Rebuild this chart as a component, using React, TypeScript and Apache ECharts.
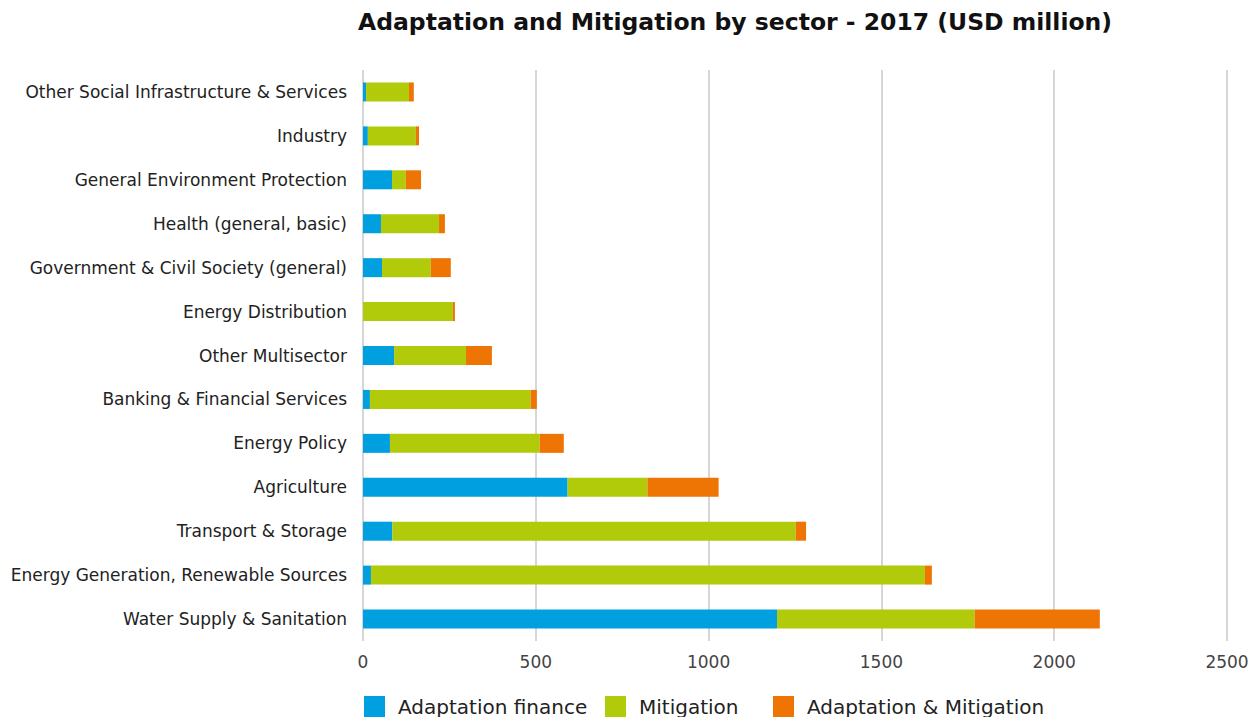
import React, { useEffect, useRef } from "react";
import * as echarts from "echarts";

const categories = [
  "Water Supply & Sanitation",
  "Energy Generation, Renewable Sources",
  "Transport & Storage",
  "Agriculture",
  "Energy Policy",
  "Banking & Financial Services",
  "Other Multisector",
  "Energy Distribution",
  "Government & Civil Society (general)",
  "Health (general, basic)",
  "General Environment Protection",
  "Industry",
  "Other Social Infrastructure & Services",
];
const adaptation = [1198, 23, 85, 592, 78, 20, 90, 0, 55, 52, 84, 14, 9];
const mitigation = [572, 1603, 1167, 231, 433, 465, 208, 260, 141, 168, 40, 139, 124];
const adaptMitig = [362, 20, 30, 206, 70, 18, 75, 6, 58, 17, 44, 9, 14];
const xTicks = { min: 0, max: 2500, interval: 500 };
const seriesNames = ["Adaptation finance", "Mitigation", "Adaptation & Mitigation"];
const seriesColors = ["#009FDF", "#B1CA0A", "#EE7404"];

const FONT = "DejaVu Sans";

export default function App() {
  const ref = useRef<HTMLDivElement>(null);
  useEffect(() => {
    document.body.style.margin = "0";
    const chart = echarts.init(ref.current!, null, { renderer: "svg" });
    const values = [adaptation, mitigation, adaptMitig];
    const legendLefts = [364, 605, 773];
    chart.setOption({
      animation: false,
      textStyle: { fontFamily: FONT },
      title: {
        text: "Adaptation and Mitigation by sector - 2017 (USD million)",
        left: 353,
        top: 5,
        textStyle: { fontSize: 23.5, fontWeight: "bold", color: "#111", fontFamily: FONT },
      },
      grid: { left: 363, right: 29, top: 70, bottom: 76, containLabel: false },
      legend: seriesNames.map((n, i) => ({
        left: legendLefts[i],
        top: 696,
        padding: 0,
        itemWidth: 21,
        itemHeight: 21,
        icon: "rect",
        textStyle: { fontSize: 20, color: "#222", fontFamily: FONT, padding: [0, 0, 0, 8] },
        data: [n],
      })),
      xAxis: {
        type: "value",
        min: xTicks.min,
        max: xTicks.max,
        interval: xTicks.interval,
        axisLine: { show: false },
        axisTick: { show: false },
        axisLabel: {
          fontSize: 17,
          color: "#444",
          margin: 12,
          fontFamily: FONT,
          formatter: (v: number) => String(v),
        },
        splitLine: { show: true, lineStyle: { color: "#c8c8c8", width: 1.5 } },
      },
      yAxis: {
        type: "category",
        data: categories,
        axisLine: { show: false },
        axisTick: { show: false },
        axisLabel: { fontSize: 17, color: "#222", margin: 16, fontFamily: FONT },
      },
      series: seriesNames.map((n, i) => ({
        name: n,
        type: "bar",
        stack: "total",
        data: values[i],
        barWidth: 19,
        itemStyle: { color: seriesColors[i] },
      })),
    });
    return () => chart.dispose();
  }, []);
  return <div ref={ref} style={{ width: 1256, height: 717 }} />;
}
